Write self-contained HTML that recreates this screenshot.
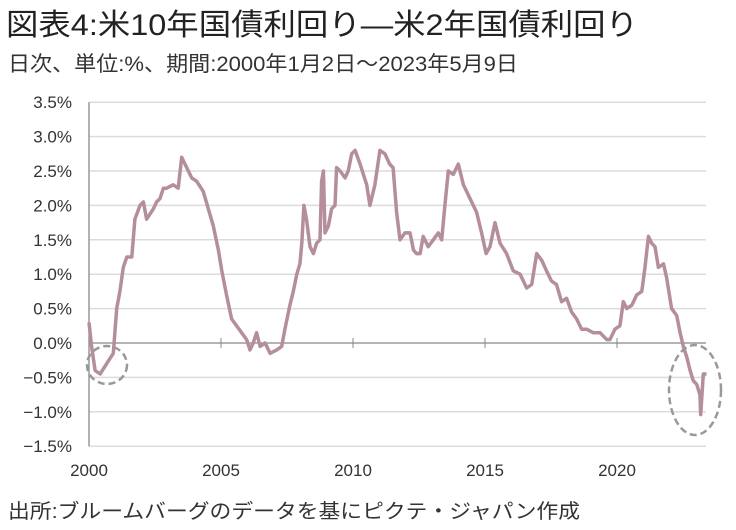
<!DOCTYPE html>
<html><head><meta charset="utf-8"><style>
html,body{margin:0;padding:0;background:#fff;}
svg{display:block;font-family:"Liberation Sans","Noto Sans CJK JP",sans-serif;}
</style></head><body>
<svg width="736" height="530" viewBox="0 0 736 530">
<text x="6" y="35" font-size="30" fill="#222" textLength="632" lengthAdjust="spacingAndGlyphs">図表4:米10年国債利回り—米2年国債利回り</text>
<text x="8" y="71" font-size="21" fill="#333" textLength="510" lengthAdjust="spacingAndGlyphs">日次、単位:%、期間:2000年1月2日～2023年5月9日</text>
<g id="grid"></g>
<g id="ylabels"></g>
<g id="xlabels"></g>
<path id="series" fill="none" stroke="#b48e9c" stroke-width="3.5" stroke-linejoin="round"/>
<ellipse cx="107" cy="365" rx="20" ry="19" fill="none" stroke="#999" stroke-width="2.5" stroke-dasharray="7,4"/>
<ellipse cx="695" cy="390" rx="26" ry="45" fill="none" stroke="#999" stroke-width="2.5" stroke-dasharray="7,4"/>
<text x="8" y="518" font-size="20" fill="#333" textLength="572" lengthAdjust="spacingAndGlyphs">出所:ブルームバーグのデータを基にピクテ・ジャパン作成</text>
</svg>
<script>
const yTicks=[3.5,3.0,2.5,2.0,1.5,1.0,0.5,0.0,-0.5,-1.0,-1.5];
const xTicks=[2000,2005,2010,2015,2020];
const years=[2000.0,2000.1,2000.23,2000.42,2000.67,2000.92,2001.05,2001.17,2001.3,2001.43,2001.62,2001.74,2001.93,2002.06,2002.18,2002.44,2002.56,2002.69,2002.82,2002.94,2003.19,2003.38,2003.51,2003.7,2003.89,2004.08,2004.33,2004.52,2004.71,2004.9,2005.03,2005.21,2005.4,2005.59,2005.78,2005.97,2006.1,2006.22,2006.35,2006.48,2006.67,2006.86,2007.11,2007.3,2007.42,2007.61,2007.74,2007.87,2007.99,2008.06,2008.14,2008.24,2008.37,2008.5,2008.62,2008.75,2008.81,2008.88,2008.94,2009.07,2009.19,2009.32,2009.38,2009.51,2009.7,2009.82,2009.95,2010.08,2010.27,
2010.52,2010.64,2010.83,2011.02,2011.21,2011.39,2011.52,2011.65,2011.78,2011.97,2012.16,2012.29,2012.41,2012.54,2012.66,2012.85,2013.04,2013.23,2013.36,2013.48,2013.61,2013.8,2013.99,2014.18,2014.43,2014.68,2014.87,2015.04,2015.19,2015.38,2015.57,2015.82,2016.07,2016.33,2016.58,2016.77,2016.96,2017.15,2017.33,2017.52,2017.71,2017.9,2018.09,2018.28,2018.47,2018.66,2018.85,2019.1,2019.36,2019.61,2019.73,2019.92,2020.11,2020.24,2020.37,2020.56,2020.75,2020.94,2021.06,2021.19,2021.31,2021.44,2021.57,2021.76,2021.88,2022.07,2022.26,2022.39,2022.51,2022.64,2022.77,2022.89,2023.02,2023.14,2023.17,2023.27,2023.39];
const spread=[0.3,-0.05,-0.4,-0.45,-0.3,-0.15,0.5,0.75,1.1,1.25,1.25,1.8,2.0,2.05,1.8,1.95,2.05,2.1,2.25,2.25,2.3,2.25,2.7,2.55,2.4,2.35,2.2,1.95,1.7,1.35,1.05,0.7,0.35,0.25,0.15,0.05,-0.1,0.0,0.15,-0.05,0.0,-0.15,-0.1,-0.05,0.2,0.55,0.75,1.0,1.15,1.45,2.0,1.8,1.4,1.3,1.45,1.5,2.35,2.5,1.6,1.7,1.95,2.0,2.55,2.5,2.4,2.5,2.75,2.8,2.6,
2.3,2.0,2.3,2.8,2.75,2.6,2.55,1.9,1.5,1.6,1.6,1.35,1.3,1.3,1.55,1.4,1.5,1.6,1.5,2.0,2.5,2.45,2.6,2.3,2.1,1.9,1.6,1.3,1.4,1.75,1.45,1.3,1.05,1.0,0.8,0.85,1.3,1.2,1.05,0.9,0.85,0.6,0.65,0.45,0.35,0.2,0.2,0.15,0.15,0.05,0.05,0.2,0.25,0.6,0.5,0.55,0.7,0.75,1.1,1.55,1.45,1.4,1.1,1.15,0.95,0.5,0.4,0.15,-0.05,-0.2,-0.4,-0.55,-0.6,-0.75,-1.04,-0.45,-0.45];
const X0=89,PXY=26.4,Y0=343,PXV=68.8,XEND=706;
const xs=y=>X0+(y-2000)*PXY, ys=v=>Y0-v*PXV;
const NS="http://www.w3.org/2000/svg";
const grid=document.getElementById('grid'),yl=document.getElementById('ylabels'),xl=document.getElementById('xlabels');
yTicks.forEach(v=>{
  const l=document.createElementNS(NS,'line');
  l.setAttribute('x1',X0);l.setAttribute('x2',XEND);l.setAttribute('y1',ys(v));l.setAttribute('y2',ys(v));
  l.setAttribute('stroke',v===0?'#888':'#dcdcdc');l.setAttribute('stroke-width',v===0?1.3:1.5);
  
  
  grid.appendChild(l);
  const t=document.createElementNS(NS,'text');
  t.setAttribute('x',72);t.setAttribute('y',ys(v)+6);t.setAttribute('text-anchor','end');
  t.setAttribute('font-size','17');t.setAttribute('fill','#333');
  t.textContent=(v<0?'−':'')+Math.abs(v).toFixed(1)+'%';
  
  
  yl.appendChild(t);
});
const ax=document.createElementNS(NS,'line');
ax.setAttribute('x1',X0);ax.setAttribute('x2',X0);ax.setAttribute('y1',ys(3.5));ax.setAttribute('y2',ys(-1.5));
ax.setAttribute('stroke','#888');ax.setAttribute('stroke-width',1.3);


grid.appendChild(ax);
xTicks.forEach(y=>{
  const tk=document.createElementNS(NS,'line');
  tk.setAttribute('x1',xs(y));tk.setAttribute('x2',xs(y));tk.setAttribute('y1',Y0-5);tk.setAttribute('y2',Y0+5);
  tk.setAttribute('stroke','#888');
  
  
  grid.appendChild(tk);
  const t=document.createElementNS(NS,'text');
  t.setAttribute('x',xs(y));t.setAttribute('y',476);t.setAttribute('text-anchor','middle');
  t.setAttribute('font-size','17');t.setAttribute('fill','#333');
  t.textContent=y;
  
  
  xl.appendChild(t);
});
let d='';
years.forEach((y,i)=>{d+=(i?'L':'M')+xs(y).toFixed(1)+' '+ys(spread[i]).toFixed(1);});
document.getElementById('series').setAttribute('d',d);
</script>
</body></html>
